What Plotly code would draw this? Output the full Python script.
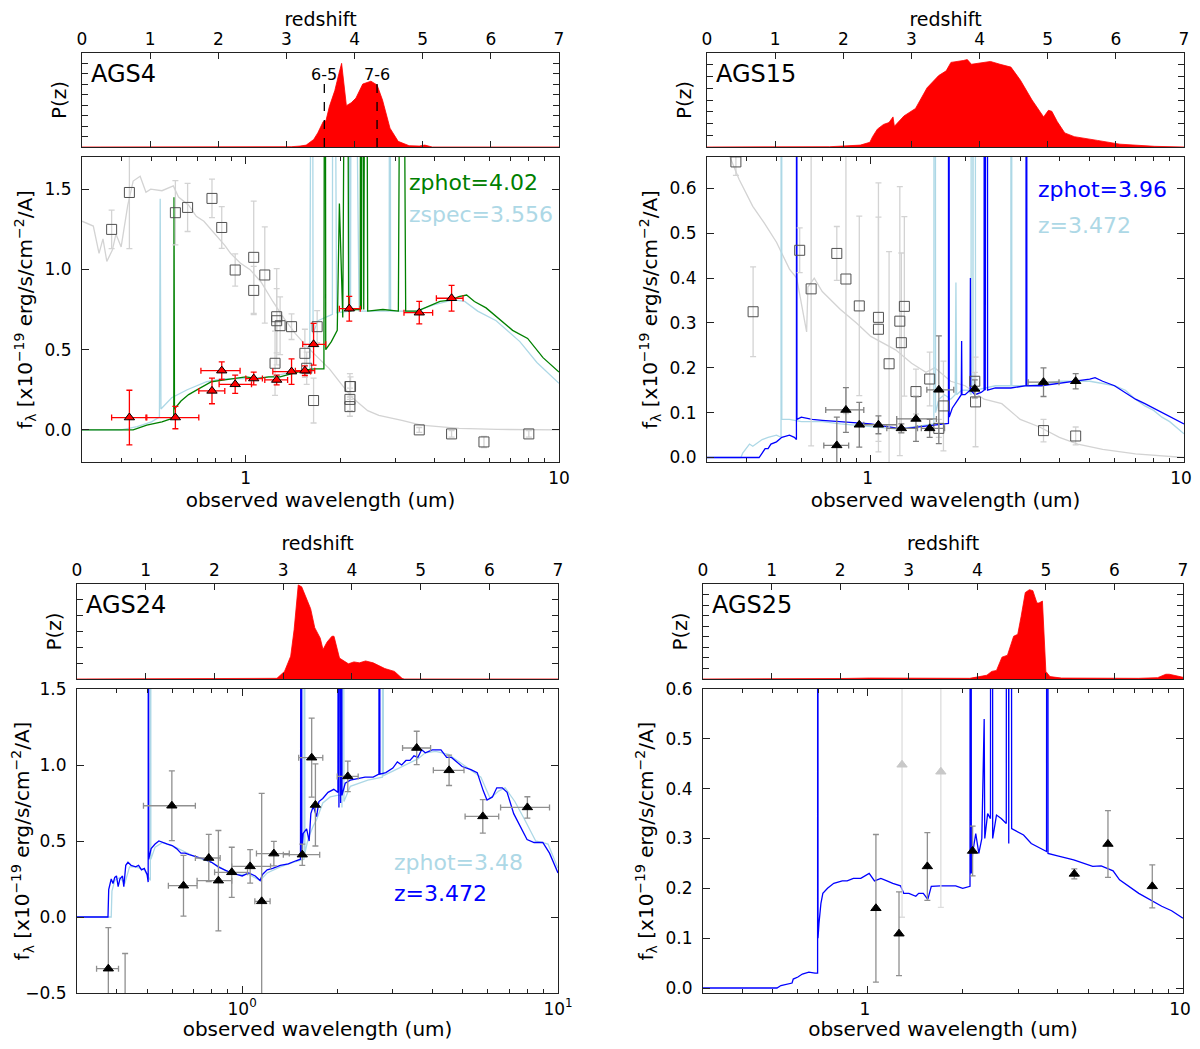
import plotly.graph_objects as go

# the page body adds an 8px margin, so the figure is made 16px smaller and shifted
W, H = 1184, 1033
OFF = 8
FONT = "DejaVu Sans"

# ---------------- P(z) curves (redshift, normalised probability) ----------------
ags4_pz = [(0, 0), (2.9, 0), (3.07, 0.003), (3.2, 0.01), (3.29, 0.02), (3.40, 0.08), (3.46, 0.15),
           (3.54, 0.27), (3.58, 0.28), (3.63, 0.43), (3.71, 0.60), (3.77, 0.78), (3.81, 0.89),
           (3.88, 0.44), (3.95, 0.47), (4.02, 0.52), (4.12, 0.67), (4.24, 0.70), (4.33, 0.66),
           (4.41, 0.50), (4.52, 0.20), (4.64, 0.06), (4.80, 0.014), (4.95, 0.01), (5.03, 0.02),
           (5.14, 0.0), (7, 0)]
ags15_pz = [(0, 0), (1.6, 0), (1.80, 0.003), (2.25, 0.02), (2.39, 0.05), (2.43, 0.11), (2.50, 0.19),
            (2.59, 0.24), (2.67, 0.26), (2.73, 0.32), (2.75, 0.22), (2.89, 0.33), (3.06, 0.41),
            (3.23, 0.63), (3.40, 0.76), (3.51, 0.81), (3.58, 0.90), (3.76, 0.92), (3.82, 0.93),
            (3.88, 0.88), (4.16, 0.91), (4.30, 0.88), (4.46, 0.85), (4.60, 0.71), (4.77, 0.50),
            (4.94, 0.32), (5.01, 0.39), (5.06, 0.38), (5.14, 0.27), (5.25, 0.15), (5.39, 0.11),
            (5.73, 0.07), (6.06, 0.03), (6.57, 0.007), (7, 0)]
ags24_pz = [(0, 0), (2.85, 0), (2.91, 0.007), (3.02, 0.08), (3.11, 0.24), (3.16, 0.52), (3.22, 0.99),
            (3.27, 0.97), (3.33, 0.87), (3.40, 0.74), (3.46, 0.54), (3.54, 0.43), (3.58, 0.31),
            (3.64, 0.39), (3.71, 0.45), (3.74, 0.45), (3.82, 0.22), (3.95, 0.16), (4.03, 0.18),
            (4.11, 0.17), (4.20, 0.19), (4.31, 0.17), (4.48, 0.11), (4.62, 0.08), (4.73, 0.007),
            (4.76, 0), (7, 0)]
ags25_pz = [(0, 0), (1.47, 0), (2.0, 0.005), (2.43, 0.01), (2.99, 0.01), (3.55, 0.004), (3.89, 0.007),
            (4.03, 0.025), (4.14, 0.04), (4.21, 0.08), (4.28, 0.09), (4.36, 0.23), (4.44, 0.25),
            (4.53, 0.45), (4.59, 0.47), (4.64, 0.66), (4.70, 0.91), (4.76, 0.94), (4.81, 0.93),
            (4.87, 0.80), (4.90, 0.80), (4.95, 0.82), (5.00, 0.08), (5.06, 0.025), (5.23, 0.01),
            (6.35, 0.007), (6.63, 0.014), (6.75, 0.05), (6.80, 0.05), (7.0, 0.018)]

# CO transition redshifts marked in AGS4
co_z = [3.556, 4.33]
co_labels = ["6-5", "7-6"]

# ---------------- model SEDs (wavelength um, flux) ----------------
ags4_gray = [(0.30, 1.30), (0.326, 1.27), (0.34, 1.10), (0.35, 1.19), (0.36, 1.05), (0.375, 1.12),
             (0.385, 1.22), (0.40, 1.14), (0.42, 1.40), (0.437, 1.55), (0.46, 1.58), (0.48, 1.48),
             (0.497, 1.50), (0.54, 1.49), (0.587, 1.52), (0.61, 1.45), (0.657, 1.40), (0.695, 1.33),
             (0.735, 1.30), (0.80, 1.22), (0.857, 1.15), (0.894, 1.10), (0.96, 1.04), (1.03, 1.00),
             (1.12, 0.92), (1.22, 0.80), (1.32, 0.70), (1.44, 0.60), (1.565, 0.52), (1.70, 0.45),
             (1.85, 0.38), (2.01, 0.29), (2.19, 0.20), (2.45, 0.12), (2.66, 0.09), (3.15, 0.06),
             (3.63, 0.03), (4.80, 0.01), (6.35, 0.003), (10.0, 0.0)]
ags4_green = [(0.30, 0.0), (0.437, 0.0), (0.483, 0.03), (0.54, 0.05), (0.579, 0.07), (0.589, 0.08),
              (0.590, 1.45), (0.592, 0.13), (0.621, 0.18), (0.657, 0.22), (0.714, 0.26), (0.777, 0.30),
              (0.845, 0.31), (0.919, 0.32), (1.0, 0.33), (1.088, 0.32), (1.183, 0.33), (1.287, 0.33),
              (1.40, 0.35), (1.522, 0.37), (1.656, 0.38), (1.776, 0.38), (1.79, 5.0), (1.80, 0.50),
              (1.876, 0.55), (1.959, 0.62), (1.99, 1.41), (2.04, 0.70), (2.10, 5.0), (2.13, 0.74),
              (2.25, 0.75), (2.32, 0.75), (2.33, 5.0), (2.34, 0.75), (2.37, 5.0), (2.38, 0.75),
              (2.42, 5.0), (2.45, 0.74), (2.74, 0.75), (3.07, 0.74), (3.15, 5.0), (3.24, 0.74),
              (3.53, 0.74), (3.84, 0.77), (4.17, 0.80), (4.54, 0.81), (4.79, 0.83), (5.07, 0.84),
              (5.37, 0.80), (5.85, 0.76), (6.35, 0.70), (7.11, 0.62), (7.94, 0.57), (8.89, 0.45),
              (10.0, 0.36)]
ags4_lblue = [(0.30, 0.0), (0.40, 0.0), (0.45, 0.02), (0.50, 0.05), (0.53, 0.08), (0.533, 1.44),
              (0.536, 0.13), (0.58, 0.20), (0.65, 0.25), (0.75, 0.30), (0.85, 0.32), (1.0, 0.32),
              (1.2, 0.33), (1.4, 0.36), (1.6, 0.37), (1.63, 5.0), (1.64, 0.60), (1.70, 0.68),
              (1.89, 0.72), (1.90, 5.0), (1.95, 0.73), (2.14, 0.74), (2.15, 5.0), (2.16, 0.74),
              (2.18, 5.0), (2.3, 0.74), (2.87, 0.74), (2.88, 5.0), (2.9, 0.74), (3.5, 0.74),
              (4.0, 0.78), (4.6, 0.81), (5.0, 0.80), (5.5, 0.74), (6.3, 0.68), (7.5, 0.55),
              (8.5, 0.42), (10.0, 0.29)]

ags15_gray = [(0.33, 0.70), (0.355, 0.67), (0.38, 0.62), (0.42, 0.56), (0.46, 0.52), (0.50, 0.48),
              (0.55, 0.42), (0.58, 0.40), (0.624, 0.28), (0.63, 0.38), (0.66, 0.40), (0.70, 0.37),
              (0.80, 0.33), (0.90, 0.30), (1.0, 0.27), (1.1, 0.255), (1.2, 0.24), (1.35, 0.21),
              (1.5, 0.19), (1.6, 0.20), (1.8, 0.17), (2.0, 0.16), (2.3, 0.13), (2.62, 0.12),
              (3.0, 0.085), (3.46, 0.068), (4.0, 0.045), (4.58, 0.03), (5.5, 0.018), (7.0, 0.008),
              (10.0, 0.0)]
ags15_blue = [(0.30, 0.0), (0.44, 0.0), (0.45, 0.01), (0.46, 0.02), (0.47, 0.02), (0.48, 0.03),
              (0.50, 0.035), (0.52, 0.045), (0.55, 0.05), (0.57, 0.045), (0.579, 0.04), (0.58, 5.0),
              (0.581, 0.085), (0.60, 0.09), (0.65, 0.085), (0.70, 0.083), (0.80, 0.08), (0.90, 0.078),
              (1.0, 0.075), (1.1, 0.07), (1.2, 0.066), (1.3, 0.065), (1.4, 0.068), (1.5, 0.07),
              (1.6, 0.072), (1.7, 0.075), (1.77, 0.076), (1.775, 5.0), (1.78, 0.09), (1.82, 0.11),
              (1.88, 0.125), (1.945, 0.14), (1.95, 0.26), (1.955, 0.14), (2.0, 0.14), (2.075, 0.15),
              (2.08, 0.40), (2.085, 0.15), (2.15, 0.14), (2.25, 0.145), (2.30, 0.15), (2.31, 5.0),
              (2.32, 0.15), (2.35, 5.0), (2.36, 0.15), (2.5, 0.155), (2.8, 0.155), (3.13, 0.16),
              (3.14, 5.0), (3.15, 0.16), (3.5, 0.16), (4.0, 0.165), (4.5, 0.17), (5.0, 0.175),
              (5.2, 0.178), (5.5, 0.17), (6.0, 0.16), (6.5, 0.145), (7.0, 0.13), (7.5, 0.12),
              (8.0, 0.11), (9.0, 0.09), (10.0, 0.075)]
ags15_lblue = [(0.30, 0.0), (0.385, 0.0), (0.39, 0.01), (0.40, 0.02), (0.41, 0.03), (0.42, 0.025),
               (0.43, 0.03), (0.45, 0.04), (0.47, 0.045), (0.50, 0.05), (0.517, 0.045), (0.518, 5.0),
               (0.52, 0.085), (0.55, 0.085), (0.60, 0.08), (0.70, 0.08), (0.80, 0.075), (0.90, 0.072),
               (1.0, 0.07), (1.1, 0.066), (1.2, 0.064), (1.3, 0.066), (1.45, 0.07), (1.59, 0.075),
               (1.60, 5.0), (1.61, 0.10), (1.65, 0.13), (1.72, 0.14), (1.80, 0.13), (1.86, 0.14),
               (1.87, 0.39), (1.88, 0.14), (1.95, 0.15), (2.05, 0.15), (2.09, 0.14), (2.10, 5.0),
               (2.12, 0.15), (2.14, 5.0), (2.16, 0.15), (2.3, 0.155), (2.5, 0.16), (2.80, 0.16),
               (2.81, 5.0), (2.82, 0.16), (3.2, 0.16), (3.6, 0.165), (4.0, 0.17), (4.5, 0.17),
               (5.0, 0.17), (5.5, 0.165), (6.0, 0.16), (6.5, 0.15), (7.0, 0.13), (7.5, 0.115),
               (8.0, 0.105), (8.5, 0.09), (9.0, 0.08), (10.0, 0.053)]

ags24_blue = [(0.30, 0.0), (0.376, 0.0), (0.378, 0.18), (0.385, 0.25), (0.39, 0.22), (0.395, 0.26),
              (0.40, 0.27), (0.405, 0.20), (0.41, 0.25), (0.418, 0.27), (0.422, 0.20), (0.428, 0.34),
              (0.435, 0.36), (0.445, 0.34), (0.46, 0.33), (0.47, 0.34), (0.48, 0.31), (0.49, 0.32),
              (0.50, 0.28), (0.504, 0.23), (0.505, 5.0), (0.506, 0.38), (0.515, 0.45), (0.53, 0.48),
              (0.545, 0.50), (0.56, 0.49), (0.58, 0.48), (0.60, 0.47), (0.62, 0.45), (0.64, 0.42),
              (0.66, 0.42), (0.68, 0.41), (0.70, 0.40), (0.73, 0.39), (0.76, 0.38), (0.80, 0.36),
              (0.84, 0.33), (0.88, 0.31), (0.92, 0.29), (0.96, 0.28), (1.00, 0.27), (1.05, 0.29),
              (1.10, 0.27), (1.14, 0.24), (1.16, 0.28), (1.20, 0.31), (1.25, 0.32), (1.32, 0.34),
              (1.40, 0.35), (1.48, 0.37), (1.53, 0.38), (1.54, 5.0), (1.545, 0.43), (1.56, 0.55),
              (1.60, 0.58), (1.63, 0.50), (1.65, 0.68), (1.68, 0.73), (1.72, 0.66), (1.75, 0.76),
              (1.80, 0.78), (1.87, 0.82), (1.95, 0.84), (2.01, 0.82), (2.02, 5.0), (2.025, 0.72),
              (2.04, 5.0), (2.05, 0.75), (2.06, 5.0), (2.07, 0.80), (2.12, 0.88), (2.2, 0.90),
              (2.3, 0.91), (2.45, 0.92), (2.6, 0.92), (2.71, 0.94), (2.72, 5.0), (2.73, 0.94),
              (2.85, 0.95), (3.0, 0.98), (3.1, 1.02), (3.2, 1.00), (3.3, 1.03), (3.4, 1.03),
              (3.5, 1.06), (3.6, 1.05), (3.7, 1.10), (3.8, 1.08), (3.9, 1.09), (4.0, 1.10),
              (4.26, 1.10), (4.44, 1.05), (4.6, 1.05), (4.8, 1.02), (4.97, 0.99), (5.3, 0.97),
              (5.55, 0.95), (5.8, 0.83), (5.96, 0.77), (6.2, 0.79), (6.4, 0.85), (6.66, 0.85),
              (6.9, 0.82), (7.24, 0.68), (7.6, 0.60), (7.98, 0.51), (8.4, 0.49), (8.95, 0.49),
              (9.4, 0.42), (10.0, 0.29)]
ags24_lblue = [(0.30, 0.0), (0.385, 0.0), (0.387, 0.17), (0.395, 0.24), (0.41, 0.26), (0.425, 0.22),
               (0.44, 0.33), (0.46, 0.33), (0.49, 0.31), (0.512, 0.24), (0.513, 5.0), (0.514, 0.38),
               (0.53, 0.46), (0.56, 0.49), (0.60, 0.47), (0.66, 0.43), (0.72, 0.39), (0.80, 0.36),
               (0.88, 0.31), (0.96, 0.28), (1.05, 0.28), (1.14, 0.24), (1.20, 0.29), (1.32, 0.33),
               (1.45, 0.36), (1.57, 0.38), (1.575, 5.0), (1.58, 0.42), (1.62, 0.52), (1.68, 0.60),
               (1.72, 0.64), (1.80, 0.75), (1.9, 0.79), (2.0, 0.80), (2.05, 0.80), (2.06, 5.0),
               (2.07, 0.72), (2.09, 5.0), (2.10, 0.76), (2.2, 0.86), (2.5, 0.90), (2.78, 0.92),
               (2.79, 5.0), (2.80, 0.93), (3.0, 0.96), (3.3, 1.00), (3.6, 1.04), (3.8, 1.08),
               (4.1, 1.09), (4.5, 1.07), (5.1, 0.99), (5.7, 0.92), (6.1, 0.78), (6.5, 0.83),
               (6.8, 0.85), (7.3, 0.76), (7.8, 0.65), (8.5, 0.50), (9.3, 0.48), (10.0, 0.32)]

ags25_blue = [(0.30, 0.0), (0.515, 0.0), (0.53, 0.005), (0.56, 0.008), (0.575, 0.01), (0.58, 0.018),
              (0.60, 0.022), (0.62, 0.028), (0.65, 0.032), (0.68, 0.03), (0.693, 0.03), (0.694, 5.0),
              (0.695, 0.10), (0.70, 0.13), (0.71, 0.17), (0.72, 0.19), (0.745, 0.20), (0.78, 0.21),
              (0.83, 0.215), (0.86, 0.215), (0.90, 0.22), (0.95, 0.22), (1.01, 0.23), (1.05, 0.215),
              (1.1, 0.22), (1.15, 0.215), (1.2, 0.21), (1.27, 0.205), (1.3, 0.19), (1.35, 0.19),
              (1.42, 0.184), (1.45, 0.19), (1.5, 0.19), (1.55, 0.178), (1.59, 0.204), (1.7, 0.205),
              (1.8, 0.205), (1.9, 0.205), (2.0, 0.20), (2.11, 0.204), (2.12, 5.0), (2.13, 0.23),
              (2.15, 0.27), (2.2, 0.31), (2.25, 0.27), (2.3, 0.30), (2.34, 0.54), (2.35, 0.30),
              (2.4, 0.35), (2.45, 0.34), (2.47, 5.0), (2.49, 0.30), (2.56, 0.347), (2.65, 0.34),
              (2.75, 0.33), (2.77, 5.0), (2.80, 0.29), (2.83, 5.0), (2.86, 0.32), (3.12, 0.307),
              (3.3, 0.29), (3.69, 0.274), (3.72, 5.0), (3.73, 0.27), (4.0, 0.265), (4.5, 0.257),
              (5.17, 0.244), (5.5, 0.245), (6.0, 0.235), (6.29, 0.217), (7.24, 0.19), (8.56, 0.164),
              (9.2, 0.155), (10.0, 0.14)]

# ---------------- photometry: (lam, flux, flux_err, lam_lo, lam_hi) ----------------
ags4_phot = [(0.425, 0.077, 0.17, 0.373, 0.480), (0.596, 0.077, 0.07, 0.483, 0.708),
             (0.780, 0.243, 0.08, 0.708, 0.857), (0.838, 0.369, 0.055, 0.719, 0.959),
             (0.925, 0.284, 0.057, 0.822, 1.043), (1.06, 0.32, 0.04, 1.0, 1.13),
             (1.255, 0.311, 0.03, 1.15, 1.36), (1.40, 0.363, 0.08, 1.22, 1.61),
             (1.544, 0.369, 0.03, 1.44, 1.66), (1.646, 0.533, 0.13, 1.52, 1.80),
             (2.14, 0.755, 0.077, 1.99, 2.32), (3.58, 0.73, 0.07, 3.20, 3.95),
             (4.54, 0.82, 0.08, 4.06, 4.94)]
# foreground (low-z) photometry: (lam, flux, flux_err)
ags4_fg = [(0.373, 1.249, 0.12), (0.425, 1.479, 0.35), (0.596, 1.353, 0.2), (0.652, 1.386, 0.15),
           (0.780, 1.442, 0.12), (0.838, 1.261, 0.13), (0.925, 0.996, 0.1), (1.06, 1.075, 0.35),
           (1.06, 0.869, 0.15), (1.15, 0.965, 0.3), (1.255, 0.705, 0.3), (1.255, 0.68, 0.2),
           (1.287, 0.649, 0.18), (1.40, 0.643, 0.08), (1.24, 0.415, 0.2), (1.544, 0.477, 0.15),
           (1.565, 0.384, 0.1), (1.646, 0.183, 0.14), (1.69, 0.643, 0.1), (2.15, 0.27, 0.08),
           (2.16, 0.27, 0.06), (2.15, 0.19, 0.07), (2.15, 0.145, 0.06), (3.58, 0.0, 0.015),
           (4.54, -0.025, 0.02), (5.76, -0.075, 0.035), (8.01, -0.025, 0.02)]

ags15_phot = [(0.779, 0.027, 0.063, 0.708, 0.850), (0.833, 0.106, 0.05, 0.718, 0.95),
              (0.919, 0.073, 0.05, 0.919, 0.919), (1.058, 0.073, 0.02, 0.95, 1.21),
              (1.252, 0.065, 0.01, 1.125, 1.41), (1.394, 0.086, 0.05, 1.21, 1.62),
              (1.542, 0.065, 0.02, 1.45, 1.72), (1.649, 0.151, 0.12, 1.51, 1.84),
              (2.148, 0.153, 0.02, 2.148, 2.148), (3.56, 0.168, 0.032, 3.18, 3.99),
              (4.51, 0.170, 0.017, 4.51, 4.51)]
ags15_fg = [(0.371, 0.659, 0.03), (0.421, 0.325, 0.1), (0.593, 0.462, 0.05), (0.645, 0.376, 0.35),
            (0.779, 0.455, 0.06), (0.833, 0.398, 0.3), (0.919, 0.338, 0.2), (1.058, 0.3125, 0.3),
            (1.058, 0.286, 0.25), (1.238, 0.304, 0.3), (1.252, 0.256, 0.2), (1.28, 0.337, 0.2),
            (1.144, 0.209, 0.25), (1.394, 0.147, 0.05), (1.542, 0.175, 0.06), (1.706, 0.115, 0.1),
            (1.649, 0.065, 0.02), (2.148, 0.170, 0.02), (2.16, 0.124, 0.1), (3.56, 0.060, 0.025),
            (4.51, 0.048, 0.02)]

ags24_phot = [(0.377, -0.34, 0.27, 0.346, 0.406), (0.426, -0.65, 0.41, 0.426, 0.426),
              (0.599, 0.732, 0.23, 0.487, 0.711), (0.652, 0.206, 0.2, 0.584, 0.72),
              (0.784, 0.388, 0.155, 0.711, 0.852), (0.841, 0.239, 0.33, 0.72, 0.927),
              (0.927, 0.294, 0.165, 0.818, 1.04), (1.06, 0.333, 0.11, 0.927, 1.23),
              (1.153, 0.103, 0.71, 1.097, 1.226), (1.26, 0.417, 0.08, 1.11, 1.41),
              (1.55, 0.41, 0.07, 1.35, 1.76), (1.66, 1.048, 0.26, 1.51, 1.80),
              (1.706, 0.737, 0.27, 1.706, 1.706), (2.16, 0.925, 0.1, 2.0, 2.33),
              (3.57, 1.112, 0.11, 3.22, 3.95), (4.52, 0.965, 0.1, 4.03, 5.04),
              (5.78, 0.662, 0.11, 5.08, 6.49), (8.0, 0.721, 0.07, 6.58, 9.4)]

ags25_phot = [(1.061, 0.160, 0.148), (1.256, 0.109, 0.084), (1.545, 0.244, 0.068), (2.15, 0.275, 0.05),
              (4.52, 0.229, 0.01), (5.78, 0.289, 0.067), (7.99, 0.204, 0.043)]
ags25_phot_unused = [(1.284, 0.448, 0.306), (1.705, 0.434, 0.272)]

# ---------------- panel geometry (page pixels) ----------------
# x0, x1, pz_top, pz_bottom, sed_top, sed_bottom, wavelength label shift
boxes = {
    "AGS4": (82, 559, 53, 147, 157, 462, 0),
    "AGS15": (707, 1184, 53, 147, 157, 462, -3),
    "AGS24": (77, 558, 584, 679, 689, 993, 0),
    "AGS25": (703, 1183, 584, 679, 689, 993, -3),
}

GREEN = "#008000"
LBLUE = "#add8e6"
BLUE = "#0000ff"
LGRAY = "#d3d3d3"
AX = "#222222"

fig = go.Figure()


def col(pairs, i):
    return [p[i] for p in pairs]


def hdom(x0, x1):
    return [(x0 - OFF) / W, (x1 - OFF) / W]


def vdom(top, bottom):
    return [1 - (bottom - OFF) / H, 1 - (top - OFF) / H]


def line(pairs, color, ax, width=1.3):
    fig.add_trace(go.Scatter(x=col(pairs, 0), y=col(pairs, 1), mode="lines",
                             line=dict(color=color, width=width), xaxis=ax[0], yaxis=ax[1],
                             showlegend=False, hoverinfo="skip"))


def points(rows, ax, color, ecolor, symbol="triangle-up", xerr=True, size=9, edge="black"):
    err_x = None
    if xerr:
        err_x = dict(type="data", symmetric=False,
                     array=[r[4] - r[0] for r in rows], arrayminus=[r[0] - r[3] for r in rows],
                     color=ecolor, thickness=1.3, width=3)
    fig.add_trace(go.Scatter(
        x=col(rows, 0), y=col(rows, 1), mode="markers", xaxis=ax[0], yaxis=ax[1], showlegend=False,
        marker=dict(symbol=symbol, size=size, color=color, line=dict(color=edge, width=1)),
        error_y=dict(type="data", array=col(rows, 2), color=ecolor, thickness=1.3, width=3),
        error_x=err_x))


minor_vals = [0.3, 0.4, 0.5, 0.6, 0.7, 0.8, 0.9, 2, 3, 4, 5, 6, 7, 8, 9]

panel_cfg = [
    ("AGS4", ags4_pz, 1 / 9, [-0.2, 1.7], [0.0, 0.5, 1.0, 1.5], ["1", "10"]),
    ("AGS15", ags15_pz, 1 / 8, [-0.01, 0.67], [0.0, 0.1, 0.2, 0.3, 0.4, 0.5, 0.6], ["1", "10"]),
    ("AGS24", ags24_pz, 1 / 6, [-0.5, 1.5], [-0.5, 0.0, 0.5, 1.0, 1.5], ["10<sup>0</sup>", "10<sup>1</sup>"]),
    ("AGS25", ags25_pz, 1 / 9, [-0.01, 0.6], [0.0, 0.1, 0.2, 0.3, 0.4, 0.5, 0.6], ["1", "10"]),
]

layout = {}
annotations = []
tickfont = dict(family=FONT, size=17, color="black")
titlefont = dict(family=FONT, size=20, color="black")
ytitle = "f<sub>λ</sub> [x10<sup>−19</sup> erg/s/cm<sup>−2</sup>/A]"

axes = {}
for k, (name, pz, pz_dt, yr, yt, xtt) in enumerate(panel_cfg):
    x0, x1, pt, pb, st, sb, shift = boxes[name]
    a_pz, a_sed = 2 * k + 1, 2 * k + 2
    ida = lambda n: ("x" if n == 1 else f"x{n}", "y" if n == 1 else f"y{n}")
    axes[name] = (ida(a_pz), ida(a_sed))
    kx = lambda n: "xaxis" if n == 1 else f"xaxis{n}"
    ky = lambda n: "yaxis" if n == 1 else f"yaxis{n}"
    common = dict(showline=True, linecolor=AX, linewidth=1.2, mirror="ticks", ticks="inside",
                  tickcolor=AX, showgrid=False, zeroline=False, tickfont=tickfont, automargin=False,
                  ticklabeloverflow="allow")
    layout[kx(a_pz)] = dict(common, domain=hdom(x0, x1), anchor=ida(a_pz)[1], range=[0, 7],
                            dtick=1, tick0=0, side="top", ticklen=6, ticklabelstandoff=0,
                            title=dict(text="redshift", font=dict(titlefont, size=19), standoff=4))
    layout[ky(a_pz)] = dict(common, domain=vdom(pt, pb), anchor=ida(a_pz)[0], range=[0, 1],
                            tickmode="linear", tick0=0, dtick=pz_dt, ticklen=6, showticklabels=False,
                            title=dict(text="P(z)", font=titlefont, standoff=8))
    layout[kx(a_sed)] = dict(common, domain=hdom(x0, x1), anchor=ida(a_sed)[1], type="log",
                             range=[-0.5229, 1], tickvals=[1, 10], ticktext=xtt, ticklen=7,
                             ticklabelstandoff=0, ticklabelshift=shift,
                             minor=dict(tickvals=minor_vals, ticks="inside", ticklen=3.5, tickcolor=AX),
                             title=dict(text="observed wavelength (um)", font=titlefont, standoff=2))
    layout[ky(a_sed)] = dict(common, domain=vdom(st, sb), anchor=ida(a_sed)[0], range=yr,
                             tickvals=yt, tickformat=".1f", ticklen=7, ticklabelstandoff=6,
                             title=dict(text=ytitle, font=titlefont, standoff=6))
    fig.add_trace(go.Scatter(x=col(pz, 0), y=col(pz, 1), mode="lines", fill="tozeroy",
                             fillcolor="#ff0000", line=dict(color="#ff0000", width=0.8),
                             xaxis=ida(a_pz)[0], yaxis=ida(a_pz)[1], showlegend=False,
                             hoverinfo="skip"))
    annotations.append(dict(text=name, xref=f"{ida(a_pz)[0]} domain", yref=f"{ida(a_pz)[1]} domain",
                            x=0.015, y=0.78, xanchor="left", yanchor="middle", showarrow=False,
                            font=dict(family=FONT, size=24, color="black")))

# ---- AGS4 ----
pz_ax, sed_ax = axes["AGS4"]
line(ags4_gray, LGRAY, sed_ax)
line(ags4_lblue, LBLUE, sed_ax)
line(ags4_green, GREEN, sed_ax)
points([(r[0], r[1], r[2], r[0], r[0]) for r in ags4_fg], sed_ax, "#505050", LGRAY,
       symbol="square-open", xerr=False, size=10, edge="#505050")
points(ags4_phot, sed_ax, "red", "red")
for z, lab in zip(co_z, co_labels):
    fig.add_shape(type="line", xref=pz_ax[0], yref=pz_ax[1], x0=z, x1=z, y0=0, y1=0.67,
                  line=dict(color="black", width=1.3, dash="dash"))
    annotations.append(dict(text=lab, xref=pz_ax[0], yref=f"{pz_ax[1]} domain", x=z, y=0.89,
                            showarrow=False, font=dict(family=FONT, size=16, color="black")))

# ---- AGS15 ----
pz_ax, sed_ax = axes["AGS15"]
line(ags15_gray, LGRAY, sed_ax)
line(ags15_lblue, LBLUE, sed_ax)
line(ags15_blue, BLUE, sed_ax)
points([(r[0], r[1], r[2], r[0], r[0]) for r in ags15_fg], sed_ax, "#505050", LGRAY,
       symbol="square-open", xerr=False, size=10, edge="#505050")
points(ags15_phot, sed_ax, "black", "#808080")

# ---- AGS24 ----
pz_ax, sed_ax = axes["AGS24"]
line(ags24_lblue, LBLUE, sed_ax)
line(ags24_blue, BLUE, sed_ax)
points(ags24_phot, sed_ax, "black", "#909090")

# ---- AGS25 ----
pz_ax, sed_ax = axes["AGS25"]
line(ags25_blue, BLUE, sed_ax)
points([(r[0], r[1], r[2], r[0], r[0]) for r in ags25_phot_unused], sed_ax, "#c8c8c8", "#dddddd",
       xerr=False, edge="#c8c8c8")
points([(r[0], r[1], r[2], r[0], r[0]) for r in ags25_phot], sed_ax, "black", "#909090", xerr=False)

# ---- redshift labels in the SED panels ----
labels = [
    ("AGS4", "zphot=4.02", GREEN, 0.681, 0.918), ("AGS4", "zspec=3.556", LBLUE, 0.681, 0.813),
    ("AGS15", "zphot=3.96", BLUE, 0.69, 0.892), ("AGS15", "z=3.472", LBLUE, 0.69, 0.774),
    ("AGS24", "zphot=3.48", LBLUE, 0.655, 0.428), ("AGS24", "z=3.472", BLUE, 0.655, 0.326),
]
for name, txt, c, xf, yf in labels:
    sx, sy = axes[name][1]
    annotations.append(dict(text=txt, xref=f"{sx} domain", yref=f"{sy} domain", x=xf, y=yf,
                            xanchor="left", yanchor="middle", showarrow=False,
                            font=dict(family=FONT, size=22, color=c)))

fig.update_layout(width=W, height=H, margin=dict(l=0, r=0, t=0, b=0), plot_bgcolor="white",
                  paper_bgcolor="white", font=dict(family=FONT), annotations=annotations,
                  showlegend=False, **layout)

fig.write_html("out.html")
